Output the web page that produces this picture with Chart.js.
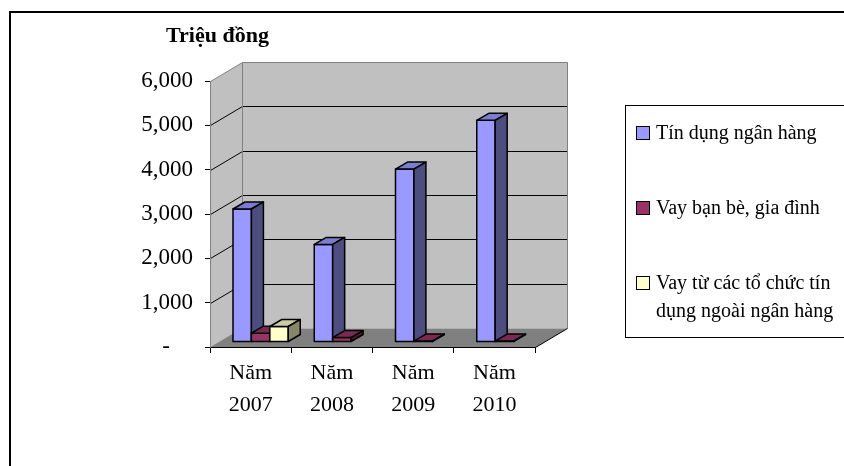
<!DOCTYPE html>
<html lang="vi">
<head>
<meta charset="UTF-8" />
<title>Nguồn vốn vay</title>
<script src="https://cdn.jsdelivr.net/npm/chart.js@4.4.1/dist/chart.umd.min.js"></script>
<style>
  html, body { margin: 0; padding: 0; background: #fff; }
</style>
</head>
<body>
<canvas id="myChart" width="844" height="466"></canvas>
<script>
  const years = [["Năm", "2007"], ["Năm", "2008"], ["Năm", "2009"], ["Năm", "2010"]];
  const bankCredit = [3000, 2200, 3900, 5000];
  const friendsFamily = [200, 100, 20, 20];
  const otherCredit = [350, 0, 0, 0];
  const seriesNames = [
    ["Tín dụng ngân hàng"],
    ["Vay bạn bè, gia đình"],
    ["Vay từ các tổ chức tín", "dụng ngoài ngân hàng"]
  ];
  const yTicks = [0, 1000, 2000, 3000, 4000, 5000, 6000];
  const unitTitle = "Triệu đồng";

  const FONT = "'Liberation Serif', 'Times New Roman', serif";
  // depth of the walls, and of the bars inside them
  const DX = 32, DY = -19;
  const BAR_FX = 10, BAR_FY = -5, BAR_DX = 12, BAR_DY = -7;
  const faces = [
    { front: "#9999ff", top: "#7b7bcf", side: "#4d4d80" },
    { front: "#993366", top: "#7a2952", side: "#4d1a33" },
    { front: "#ffffcc", top: "#cccca3", side: "#868668" }
  ];

  function poly(ctx, pts, fill, stroke) {
    ctx.beginPath();
    pts.forEach((p, i) => (i ? ctx.lineTo(p[0], p[1]) : ctx.moveTo(p[0], p[1])));
    ctx.closePath();
    if (fill) { ctx.fillStyle = fill; ctx.fill(); }
    if (stroke) { ctx.strokeStyle = stroke; ctx.stroke(); }
  }

  const box3d = {
    id: "box3d",
    beforeDraw(chart) {
      const ctx = chart.ctx;
      const a = chart.chartArea;
      const L = Math.round(a.left) + 0.5, R = Math.round(a.right) + 0.5;
      const T = Math.round(a.top) + 0.5, B = Math.round(a.bottom) + 0.5;
      const y = chart.scales.y;
      ctx.save();
      // outer frame
      ctx.lineWidth = 2;
      ctx.strokeStyle = "#000";
      ctx.strokeRect(10, 12, 1000, 1000);
      // unit title above the value axis
      ctx.fillStyle = "#000";
      ctx.font = "bold 22px " + FONT;
      ctx.textBaseline = "alphabetic";
      ctx.fillText(unitTitle, 166, 42);
      // walls and floor
      poly(ctx, [[L, T], [L + DX, T + DY], [L + DX, B + DY], [L, B]], "#c0c0c0");
      poly(ctx, [[L + DX, T + DY], [R + DX, T + DY], [R + DX, B + DY], [L + DX, B + DY]], "#c0c0c0");
      poly(ctx, [[L, B], [R, B], [R + DX, B + DY], [L + DX, B + DY]], "#808080");
      // grid lines on side + back wall
      ctx.lineWidth = 1;
      ctx.strokeStyle = "#000";
      yTicks.slice(1, -1).forEach(v => {
        const py = Math.round(y.getPixelForValue(v)) + 0.5;
        ctx.beginPath();
        ctx.moveTo(L, py);
        ctx.lineTo(L + DX, py + DY);
        ctx.lineTo(R + DX, py + DY);
        ctx.stroke();
      });
      ctx.strokeStyle = "#808080";
      ctx.beginPath();
      ctx.moveTo(L, B); ctx.lineTo(L + DX, B + DY); ctx.lineTo(L + DX, T + DY); ctx.lineTo(L, T);
      ctx.moveTo(L + DX, T + DY); ctx.lineTo(R + DX, T + DY); ctx.lineTo(R + DX, B + DY);
      ctx.stroke();
      ctx.strokeStyle = "#000";
      ctx.beginPath();
      ctx.moveTo(R, B); ctx.lineTo(R + DX, B + DY);
      ctx.stroke();
      ctx.restore();
    },
    afterDatasetsDraw(chart) {
      const ctx = chart.ctx;
      ctx.save();
      ctx.lineWidth = 1.5;
      ctx.lineJoin = "round";
      chart.data.labels.forEach((_, i) => {
        chart.data.datasets.forEach((ds, d) => {
          if (!(ds.data[i] > 0)) return;
          const el = chart.getDatasetMeta(d).data[i];
          const x0 = el.x - el.width / 2 + BAR_FX, x1 = el.x + el.width / 2 + BAR_FX;
          const y0 = el.y + BAR_FY, y1 = el.base + BAR_FY;
          const c = faces[d];
          poly(ctx, [[x0, y0], [x1, y0], [x1, y1], [x0, y1]], c.front, "#000");
          poly(ctx, [[x0, y0], [x0 + BAR_DX, y0 + BAR_DY], [x1 + BAR_DX, y0 + BAR_DY], [x1, y0]], c.top, "#000");
          poly(ctx, [[x1, y0], [x1 + BAR_DX, y0 + BAR_DY], [x1 + BAR_DX, y1 + BAR_DY], [x1, y1]], c.side, "#000");
        });
      });
      ctx.restore();
    },
    afterDraw(chart) {
      // legend box, cut by the right edge like the original
      const ctx = chart.ctx;
      ctx.save();
      ctx.lineWidth = 1;
      ctx.strokeStyle = "#000";
      ctx.strokeRect(625.5, 105.5, 400, 232);
      ctx.font = "20px " + FONT;
      ctx.textBaseline = "alphabetic";
      const markY = [133, 208, 283];
      seriesNames.forEach((lines, d) => {
        ctx.fillStyle = faces[d].front;
        ctx.fillRect(637, markY[d] - 6, 12, 12);
        ctx.strokeRect(636.5, markY[d] - 6.5, 13, 13);
        ctx.fillStyle = "#000";
        lines.forEach((t, k) => ctx.fillText(t, 656, markY[d] + 6 + k * 28));
      });
      ctx.restore();
    }
  };

  const ctx = document.getElementById("myChart").getContext("2d");
  const datasets = [bankCredit, friendsFamily, otherCredit].map((data, d) => ({
    label: seriesNames[d].join(" "),
    data: data,
    backgroundColor: "rgba(0,0,0,0)",
    borderWidth: 0,
    categoryPercentage: 0.68,
    barPercentage: 1
  }));

  new Chart(ctx, {
    type: "bar",
    data: { labels: years, datasets: datasets },
    options: {
      responsive: false,
      animation: false,
      devicePixelRatio: 1,
      events: [],
      layout: { padding: { left: 100, top: 81, right: 309, bottom: 0 } },
      plugins: {
        legend: { display: false },
        tooltip: { enabled: false },
        title: { display: false }
      },
      scales: {
        x: {
          afterFit(s) { s.height = 119; },
          grid: { display: true, drawOnChartArea: false, drawTicks: true, tickLength: 6, color: "#000", offset: true },
          border: { display: true, color: "#000" },
          ticks: { color: "#000", font: { family: FONT, size: 22, lineHeight: 1.45 }, padding: 4, maxRotation: 0, autoSkip: false }
        },
        y: {
          min: 0,
          max: 6000,
          afterFit(s) { s.width = 110; },
          afterBuildTicks(s) { s.ticks = yTicks.map(v => ({ value: v })); },
          grid: { display: true, drawOnChartArea: false, drawTicks: true, tickLength: 5, color: "#000" },
          border: { display: true, color: "#808080" },
          ticks: {
            color: "#000",
            font: { family: FONT, size: 23 },
            padding: 12,
            callback: v => (v === 0 ? "-    " : v.toLocaleString("en-US"))
          }
        }
      }
    },
    plugins: [box3d]
  });
</script>
</body>
</html>
